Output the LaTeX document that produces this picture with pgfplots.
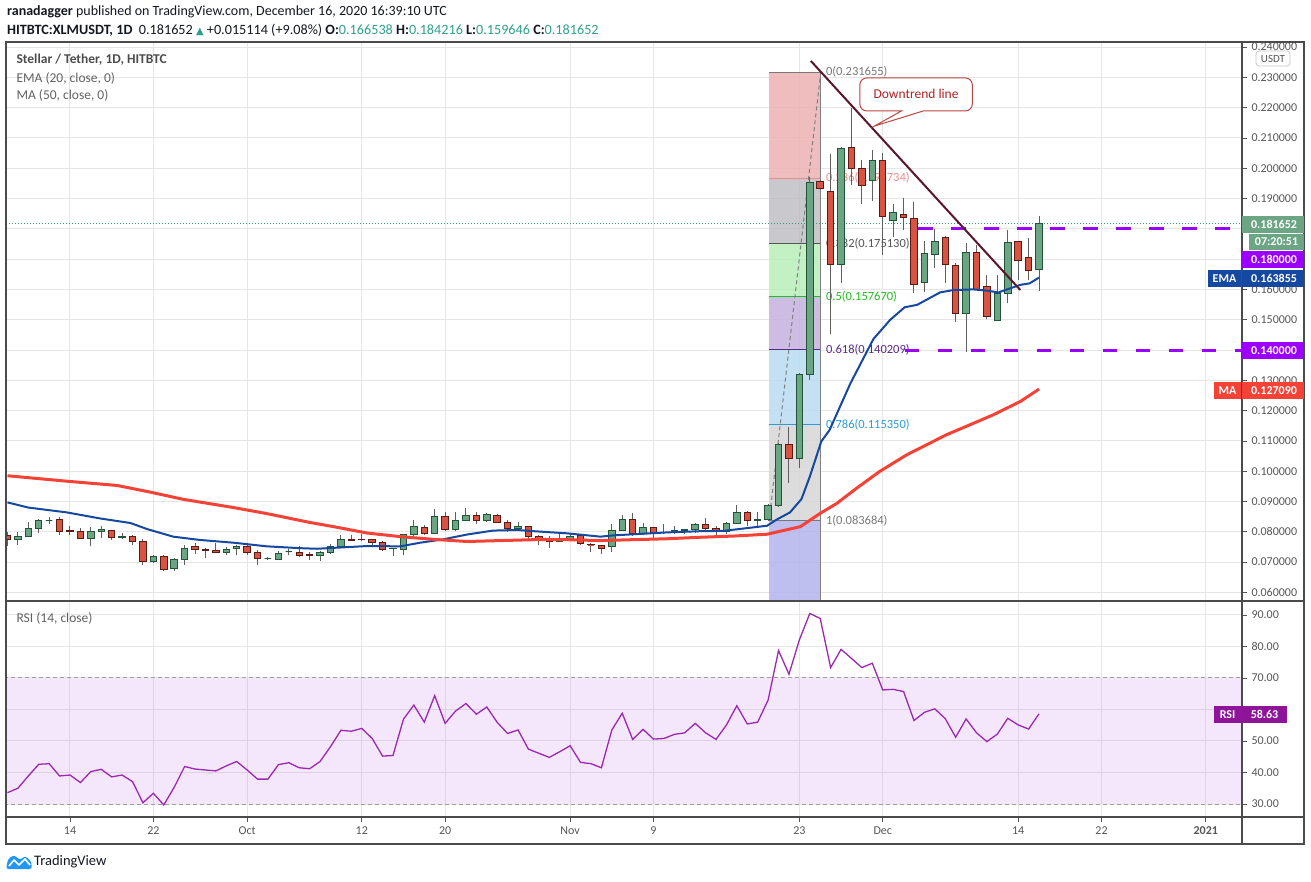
\documentclass[border=0pt]{standalone}
\usepackage{pgfplots}
\pgfplotsset{compat=1.18}
\usepackage{pgfplotstable}
\usepackage{fontspec}
\setmainfont{Carlito}
\newfontfamily\dejavu{DejaVu Sans}
\newcommand\fs[1]{\fontsize{#1}{#1}\selectfont}

\definecolor{cgreen}{RGB}{107,165,131}
\definecolor{cgreenb}{RGB}{34,84,55}
\definecolor{cred}{RGB}{215,84,66}
\definecolor{credb}{RGB}{91,26,19}
\definecolor{wickc}{RGB}{95,95,95}
\definecolor{emac}{RGB}{21,72,160}
\definecolor{mac}{RGB}{244,67,54}
\definecolor{purp}{RGB}{155,0,255}
\definecolor{rsic}{RGB}{156,39,176}
\definecolor{rsibox}{RGB}{142,21,153}
\definecolor{rsiband}{RGB}{155,39,220}
\definecolor{gridc}{RGB}{230,230,230}
\definecolor{tickc}{RGB}{85,85,85}
\definecolor{framec}{RGB}{75,75,75}
\definecolor{tealv}{RGB}{46,160,140}
\definecolor{dotc}{RGB}{60,150,120}
\definecolor{trend}{RGB}{90,22,42}
\definecolor{callred}{RGB}{178,34,34}
\definecolor{callbd}{RGB}{185,70,65}
\definecolor{txt}{RGB}{19,23,34}
\definecolor{fibr}{RGB}{236,178,178}
\definecolor{fibgr}{RGB}{190,190,196}
\definecolor{fibg}{RGB}{185,238,185}
\definecolor{fibp}{RGB}{196,178,222}
\definecolor{fibb}{RGB}{185,220,240}
\definecolor{fibl}{RGB}{214,214,214}
\definecolor{fibbot}{RGB}{180,180,236}
\definecolor{lab0}{RGB}{120,120,120}
\definecolor{lab236}{RGB}{232,140,140}
\definecolor{lab382}{RGB}{85,85,85}
\definecolor{lab5}{RGB}{30,190,30}
\definecolor{lab618}{RGB}{90,40,140}
\definecolor{lab786}{RGB}{45,155,216}
\definecolor{tvblue}{RGB}{33,150,243}

\pgfplotstableread{
d o h l c
-6 0.0789 0.0798 0.0753 0.0776
-5 0.0776 0.0798 0.0755 0.0786
-4 0.0786 0.0831 0.0786 0.0812
-3 0.0812 0.0842 0.0795 0.0838
-2 0.0837 0.0848 0.0826 0.0837
-1 0.0841 0.0848 0.0791 0.0802
0 0.0803 0.0820 0.0791 0.0802
1 0.0802 0.0814 0.0778 0.0778
2 0.0778 0.0815 0.0752 0.0802
3 0.0801 0.0820 0.0781 0.0806
4 0.0805 0.0805 0.0772 0.0782
5 0.0782 0.0795 0.0777 0.0785
6 0.0785 0.0790 0.0755 0.0769
7 0.0769 0.0777 0.0690 0.0701
8 0.0701 0.0725 0.0698 0.0717
9 0.0717 0.0722 0.0671 0.0675
10 0.0679 0.0712 0.0671 0.0707
11 0.0707 0.0757 0.0692 0.0746
12 0.0753 0.0764 0.0727 0.0740
13 0.0741 0.0747 0.0714 0.0737
14 0.0738 0.0764 0.0730 0.0732
15 0.0733 0.0749 0.0722 0.0743
16 0.0744 0.0757 0.0722 0.0750
17 0.0750 0.0764 0.0725 0.0732
18 0.0733 0.0741 0.0690 0.0712
19 0.0711 0.0717 0.0708 0.0711
20 0.0709 0.0736 0.0706 0.0730
21 0.0734 0.0744 0.0722 0.0734
22 0.0732 0.0753 0.0716 0.0723
23 0.0724 0.0733 0.0706 0.0723
24 0.0723 0.0737 0.0704 0.0732
25 0.0733 0.0760 0.0728 0.0752
26 0.0752 0.0788 0.0747 0.0776
27 0.0776 0.0790 0.0768 0.0771
28 0.0775 0.0792 0.0768 0.0774
29 0.0776 0.0776 0.0757 0.0765
30 0.0766 0.0770 0.0736 0.0743
31 0.0744 0.0747 0.0719 0.0745
32 0.0743 0.0792 0.0722 0.0792
33 0.0792 0.0840 0.0775 0.0818
34 0.0815 0.0822 0.0791 0.0795
35 0.0795 0.0875 0.0795 0.0851
36 0.0851 0.0867 0.0804 0.0807
37 0.0807 0.0864 0.0803 0.0838
38 0.0838 0.0878 0.0837 0.0854
39 0.0854 0.0864 0.0827 0.0838
40 0.0838 0.0863 0.0833 0.0858
41 0.0854 0.0858 0.0829 0.0831
42 0.0831 0.0838 0.0798 0.0812
43 0.0812 0.0831 0.0809 0.0818
44 0.0818 0.0820 0.0775 0.0786
45 0.0786 0.0788 0.0755 0.0776
46 0.0776 0.0786 0.0746 0.0769
47 0.0769 0.0798 0.0766 0.0779
48 0.0776 0.0793 0.0771 0.0786
49 0.0789 0.0789 0.0755 0.0760
50 0.0758 0.0764 0.0733 0.0757
51 0.0756 0.0757 0.0727 0.0746
52 0.0750 0.0826 0.0733 0.0805
53 0.0805 0.0855 0.0803 0.0841
54 0.0841 0.0863 0.0786 0.0795
55 0.0795 0.0829 0.0789 0.0815
56 0.0815 0.0815 0.0781 0.0795
57 0.0798 0.0826 0.0792 0.0799
58 0.0798 0.0820 0.0792 0.0805
59 0.0805 0.0809 0.0792 0.0808
60 0.0808 0.0828 0.0795 0.0825
61 0.0825 0.0844 0.0805 0.0812
62 0.0812 0.0820 0.0788 0.0802
63 0.0802 0.0831 0.0794 0.0828
64 0.0828 0.0888 0.0826 0.0864
65 0.0864 0.0870 0.0818 0.0838
66 0.0838 0.0864 0.0818 0.0841
67 0.0841 0.0891 0.0837 0.0888
68 0.0888 0.1094 0.0883 0.1089
69 0.1089 0.1147 0.0962 0.1041
70 0.1041 0.1325 0.1012 0.1320
71 0.1320 0.1972 0.1301 0.1953
72 0.1955 0.1960 0.1928 0.1933
73 0.1922 0.2047 0.1453 0.1683
74 0.1683 0.2069 0.1620 0.2066
75 0.2069 0.2198 0.1944 0.1999
76 0.1999 0.2027 0.1882 0.1944
77 0.1958 0.2060 0.1892 0.2025
78 0.2025 0.2049 0.1714 0.1842
79 0.1828 0.1882 0.1774 0.1853
80 0.1848 0.1901 0.1796 0.1838
81 0.1833 0.1890 0.1589 0.1617
82 0.1622 0.1760 0.1593 0.1718
83 0.1716 0.1798 0.1670 0.1757
84 0.1770 0.1775 0.1620 0.1681
85 0.1678 0.1686 0.1494 0.1521
86 0.1521 0.1752 0.1393 0.1722
87 0.1722 0.1747 0.1598 0.1600
88 0.1609 0.1648 0.1501 0.1510
89 0.1499 0.1648 0.1499 0.1587
90 0.1587 0.1796 0.1554 0.1755
91 0.1757 0.1757 0.1631 0.1697
92 0.1706 0.1769 0.1631 0.1664
93 0.1665 0.1842 0.1596 0.1817
}\candles

\begin{document}
\begin{tikzpicture}
\path[use as bounding box] (0pt,0pt) rectangle (1311pt,-881pt);

% ---------------- main price panel ----------------
\begin{axis}[
  at={(6pt,-42pt)}, anchor=north west,
  scale only axis, width=1236pt, height=559pt,
  xmin=-6.142, xmax=112.48, ymin=0.05716, ymax=0.24165,
  axis line style={draw=none},
  xtick={0,8,17,28,36,48,56,70,78,91,99,109},
  xticklabels={},
  major x tick style={draw=none},
  ytick={0.06,0.07,0.08,0.09,0.10,0.11,0.12,0.13,0.14,0.15,0.16,0.17,0.18,0.19,0.20,0.21,0.22,0.23,0.24},
  yticklabels={0.060000,0.070000,0.080000,0.090000,0.100000,0.110000,0.120000,0.130000,0.140000,0.150000,0.160000,{},{},0.190000,0.200000,0.210000,0.220000,0.230000,0.240000},
  ytick pos=right, yticklabel pos=right,
  tick align=outside, major tick length=5pt,
  major y tick style={draw=tickc, line width=0.8pt},
  yticklabel style={font=\fs{12}, text=tickc, xshift=1pt},
  xmajorgrids, ymajorgrids,
  major grid style={draw=gridc, line width=1pt},
]
% Fibonacci retracement zones
\fill[fibr, fill opacity=0.85] (axis cs:67.1,0.231655) rectangle (axis cs:72.05,0.196734);
\fill[fibgr, fill opacity=0.85] (axis cs:67.1,0.196734) rectangle (axis cs:72.05,0.17513);
\fill[fibg, fill opacity=0.85] (axis cs:67.1,0.17513) rectangle (axis cs:72.05,0.15767);
\fill[fibp, fill opacity=0.85] (axis cs:67.1,0.15767) rectangle (axis cs:72.05,0.140209);
\fill[fibb, fill opacity=0.85] (axis cs:67.1,0.140209) rectangle (axis cs:72.05,0.11535);
\fill[fibl, fill opacity=0.85] (axis cs:67.1,0.11535) rectangle (axis cs:72.05,0.083684);
\fill[fibbot, fill opacity=0.85] (axis cs:67.1,0.083684) rectangle (axis cs:72.05,0.05);
\draw[lab0, line width=1pt] (axis cs:67.1,0.231655) -- (axis cs:72.05,0.231655);
\draw[lab236, line width=1pt] (axis cs:67.1,0.196734) -- (axis cs:72.05,0.196734);
\draw[lab382, line width=1pt] (axis cs:67.1,0.17513) -- (axis cs:72.05,0.17513);
\draw[lab5, line width=1pt] (axis cs:67.1,0.15767) -- (axis cs:72.05,0.15767);
\draw[lab618, line width=1pt] (axis cs:67.1,0.140209) -- (axis cs:72.05,0.140209);
\draw[lab786, line width=1pt] (axis cs:67.1,0.11535) -- (axis cs:72.05,0.11535);
\draw[lab0, line width=1pt] (axis cs:67.1,0.083684) -- (axis cs:72.05,0.083684);
\draw[gray, line width=0.8pt] (axis cs:72.05,0.231655) -- (axis cs:72.05,0.05);
\draw[gray, line width=1pt, dash pattern=on 4pt off 3pt] (axis cs:67.1,0.083684) -- (axis cs:72.05,0.231655);
\node[anchor=west, text=lab0, font=\fs{12.5}, inner sep=1pt] at (axis cs:72.45,0.231655) {0(0.231655)};
\node[anchor=west, text=lab236, font=\fs{12.5}, inner sep=1pt] at (axis cs:72.45,0.196734) {0.236(0.196734)};
\node[anchor=west, text=lab382, font=\fs{12.5}, inner sep=1pt] at (axis cs:72.45,0.17513) {0.382(0.175130)};
\node[anchor=west, text=lab5, font=\fs{12.5}, inner sep=1pt] at (axis cs:72.45,0.15767) {0.5(0.157670)};
\node[anchor=west, text=lab618, font=\fs{12.5}, inner sep=1pt] at (axis cs:72.45,0.140209) {0.618(0.140209)};
\node[anchor=west, text=lab786, font=\fs{12.5}, inner sep=1pt] at (axis cs:72.45,0.11535) {0.786(0.115350)};
\node[anchor=west, text=lab0, font=\fs{12.5}, inner sep=1pt] at (axis cs:72.45,0.083684) {1(0.083684)};

% current price dotted line
\draw[dotc, line width=0.8pt, dash pattern=on 1pt off 2pt] (axis cs:-7,0.181652) -- (axis cs:113,0.181652);

% candles
\pgfplotstablegetrowsof{\candles}
\pgfmathtruncatemacro{\nrows}{\pgfplotsretval-1}
\pgfplotsforeachungrouped \i in {0,...,\nrows}{%
  \pgfplotstablegetelem{\i}{d}\of\candles \edef\cd{\pgfplotsretval}%
  \pgfplotstablegetelem{\i}{o}\of\candles \edef\co{\pgfplotsretval}%
  \pgfplotstablegetelem{\i}{h}\of\candles \edef\ch{\pgfplotsretval}%
  \pgfplotstablegetelem{\i}{l}\of\candles \edef\cl{\pgfplotsretval}%
  \pgfplotstablegetelem{\i}{c}\of\candles \edef\cc{\pgfplotsretval}%
  \pgfmathsetmacro{\xa}{\cd-0.31}%
  \pgfmathsetmacro{\xb}{\cd+0.31}%
  \pgfmathtruncatemacro{\isup}{\cc>=\co ? 1 : 0}%
  \ifnum\isup=1 \def\fc{cgreen}\def\bc{cgreenb}\else\def\fc{cred}\def\bc{credb}\fi
  \edef\tmp{\noexpand\draw[wickc, line width=1pt] (axis cs:\cd,\cl) -- (axis cs:\cd,\ch);
    \noexpand\filldraw[fill=\fc, draw=\bc, line width=1pt] (axis cs:\xa,\co) rectangle (axis cs:\xb,\cc);}%
  \tmp
}

% EMA 20
\addplot[emac, line width=2pt] coordinates {
(-6.0,0.0897) (-4.0,0.0880) (-0.3,0.0864) (2.9,0.0844) (5.8,0.0829) (7.4,0.0809) (9.9,0.0784) (12.5,0.0773) (15.7,0.0764) (18.9,0.0752) (22.1,0.0746) (23.7,0.0744) (25.3,0.0747) (28.5,0.0753) (31.7,0.0752) (33.6,0.0764) (35.8,0.0775) (38.1,0.0791) (40.6,0.0804) (42.9,0.0806) (44.5,0.0802) (47.7,0.0795) (50.9,0.0784) (52.1,0.0788) (54.1,0.0792) (57.3,0.0798) (60.5,0.0802) (62.7,0.0803) (63.7,0.0807) (66.9,0.0820) (67.8,0.0840) (69.1,0.0864) (70.2,0.0908) (71,0.0982) (72.1,0.1098) (72.9,0.1136) (74.9,0.1290) (77.1,0.1436) (78.7,0.1499) (80.1,0.1541) (81.3,0.1549) (83.5,0.1590) (84.8,0.1598) (86.7,0.1600) (88,0.1596) (89.1,0.1590) (90.2,0.1603) (91.2,0.1615) (92.1,0.1620) (93,0.1639)
};
% MA 50
\addplot[mac, line width=3pt] coordinates {
(-6,0.0985) (-0.3,0.0967) (4.5,0.0953) (7.7,0.0931) (10.9,0.0907) (15.7,0.0880) (18.9,0.0860) (23,0.0831) (25.3,0.0817) (28.5,0.0796) (31.7,0.0784) (34.9,0.0775) (38.1,0.0768) (41.3,0.0771) (44.5,0.0774) (47.7,0.0774) (50.9,0.0771) (54,0.0774) (57.3,0.0777) (60.5,0.0782) (63.7,0.0786) (66.9,0.0792) (70.1,0.0817) (72,0.0861) (73.6,0.0894) (75.5,0.0944) (77.7,0.0999) (80.3,0.1054) (84.1,0.1120) (86.7,0.1158) (88.6,0.1186) (91.2,0.1230) (93,0.1271)
};

% horizontal levels
\draw[purp, line width=3pt, dash pattern=on 14.5pt off 18.5pt] (axis cs:81.4,0.18) -- (axis cs:112.48,0.18);
\draw[purp, line width=3pt, dash pattern=on 14.5pt off 18.5pt] (axis cs:80.1,0.14) -- (axis cs:112.48,0.14);

% downtrend line
\draw[trend, line width=2pt] (axis cs:71.1,0.2354) -- (axis cs:91.2,0.1598);
% callout
\draw[callbd, fill=white, line width=1pt] (axis cs:75.8,0.2244) [rounded corners=7pt]-- (axis cs:75.8,0.2298) -- (axis cs:86.6,0.2298) -- (axis cs:86.6,0.2189) [sharp corners]-- (axis cs:81.9,0.2189) -- (axis cs:77.2,0.2139) -- (axis cs:79.8,0.2189) [rounded corners=7pt]-- (axis cs:75.8,0.2189) -- cycle;
\node[text=callred, font=\fs{13.5}] at (axis cs:81.2,0.2244) {Downtrend line};
\end{axis}

% ---------------- RSI panel ----------------
\begin{axis}[
  at={(6pt,-601pt)}, anchor=north west,
  scale only axis, width=1236pt, height=216pt,
  xmin=-6.142, xmax=112.48, ymin=25.87, ymax=94.44,
  axis line style={draw=none},
  xtick={0,8,17,28,36,48,56,70,78,91,99,109},
  xticklabels={14,22,Oct,12,20,Nov,9,23,Dec,14,22,\textbf{2021}},
  xtick pos=left,
  ytick={30,40,50,60,70,80,90},
  yticklabels={30.00,40.00,50.00,{},70.00,80.00,90.00},
  ytick pos=right, yticklabel pos=right,
  tick align=outside, major tick length=5pt,
  tick style={draw=tickc, line width=0.8pt},
  yticklabel style={font=\fs{12}, text=tickc, xshift=1pt},
  xticklabel style={font=\fs{12}, text=tickc, yshift=-1pt},
  xmajorgrids, ymajorgrids,
  major grid style={draw=gridc, line width=1pt},
]
\fill[rsiband, fill opacity=0.11] (axis cs:-7,30) rectangle (axis cs:113,70);
\draw[gray!75, line width=1pt, dash pattern=on 4pt off 3pt] (axis cs:-7,70) -- (axis cs:113,70);
\draw[gray!75, line width=1pt, dash pattern=on 4pt off 3pt] (axis cs:-7,30) -- (axis cs:113,30);
\addplot[rsic, line width=1.3pt] coordinates {
(-6,33.6) (-5,35.0) (-4,38.9) (-3,42.6) (-2,42.8) (-1,38.9) (0,39.2) (1,36.8) (2,40.3) (3,41.0) (4,38.6) (5,39.2) (6,37.1) (7,30.4) (8,33.4) (9,29.7) (10,35.3) (11,41.9) (12,41.1) (13,40.8) (14,40.5) (15,42.1) (16,43.5) (17,40.8) (18,37.9) (19,37.9) (20,42.5) (21,43.1) (22,41.5) (23,41.2) (24,43.5) (25,48.2) (26,53.4) (27,53.1) (28,54.0) (29,50.8) (30,45.2) (31,45.4) (32,56.9) (33,61.4) (34,56.0) (35,64.4) (36,55.6) (37,59.5) (38,61.9) (39,58.5) (40,60.8) (41,55.9) (42,52.4) (43,53.5) (44,47.4) (45,46.1) (46,44.8) (47,46.6) (48,48.5) (49,43.2) (50,42.8) (51,41.5) (52,53.5) (53,58.8) (54,50.5) (55,53.7) (56,50.6) (57,50.8) (58,52.1) (59,52.6) (60,55.6) (61,52.6) (62,50.5) (63,55.1) (64,61.2) (65,55.4) (66,56.0) (67,63.0) (68,78.7) (69,71.2) (70,82.1) (71,90.5) (72,88.9) (73,73.3) (74,79.1) (75,76.2) (76,73.3) (77,74.7) (78,66.2) (79,66.4) (80,65.7) (81,56.5) (82,59.1) (83,60.2) (84,57.1) (85,51.2) (86,57.0) (87,52.6) (88,49.8) (89,52.2) (90,57.2) (91,55.1) (92,53.8) (93,58.63)
};
\end{axis}

% ---------------- frame, labels, header ----------------
\draw[framec, line width=1.3pt] (6pt,-42pt) rectangle (1304pt,-844pt);
\draw[framec, line width=1.3pt] (1242pt,-42pt) -- (1242pt,-844pt);
\draw[framec, line width=1.3pt] (6pt,-601pt) -- (1304pt,-601pt);
\draw[framec, line width=1.3pt] (6pt,-817pt) -- (1304pt,-817pt);

% USDT badge
\draw[gray!45, fill=white, rounded corners=3pt, line width=0.8pt] (1256pt,-51pt) rectangle (1290pt,-66pt);
\node[text=tickc, font=\fs{11}] at (1273pt,-58.5pt) {USDT};

% price scale badges
\fill[cgreen] (1242pt,-216pt) rectangle (1304pt,-232.5pt);
\node[text=white, font=\bfseries\fs{12}] at (1274pt,-224.3pt) {0.181652};
\fill[cgreen] (1249pt,-234pt) rectangle (1304pt,-250pt);
\node[text=white, font=\bfseries\fs{12}] at (1276.5pt,-242pt) {07:20:51};
\fill[purp] (1242pt,-251pt) rectangle (1304pt,-268pt);
\node[text=white, font=\bfseries\fs{12}] at (1274pt,-259.5pt) {0.180000};
\fill[emac] (1208pt,-270pt) rectangle (1241pt,-287pt);
\node[text=white, font=\bfseries\fs{12}] at (1224.5pt,-278.5pt) {EMA};
\fill[emac] (1242pt,-270pt) rectangle (1304pt,-287pt);
\node[text=white, font=\bfseries\fs{12}] at (1274pt,-278.5pt) {0.163855};
\fill[purp] (1242pt,-342pt) rectangle (1304pt,-359pt);
\node[text=white, font=\bfseries\fs{12}] at (1274pt,-350.5pt) {0.140000};
\fill[mac] (1214pt,-382pt) rectangle (1241pt,-399pt);
\node[text=white, font=\bfseries\fs{12}] at (1227.5pt,-390.5pt) {MA};
\fill[mac] (1242pt,-382pt) rectangle (1304pt,-399pt);
\node[text=white, font=\bfseries\fs{12}] at (1274pt,-390.5pt) {0.127090};
\fill[rsibox] (1214pt,-706pt) rectangle (1241pt,-723pt);
\node[text=white, font=\bfseries\fs{12}] at (1227.5pt,-714.5pt) {RSI};
\fill[rsibox] (1242pt,-706pt) rectangle (1287pt,-723pt);
\node[text=white, font=\bfseries\fs{12}] at (1264.5pt,-714.5pt) {58.63};

% panel legends
\node[anchor=west, text=black!70, font=\bfseries\fs{13.5}] at (13pt,-60pt) {Stellar / Tether, 1D, HITBTC};
\node[anchor=west, text=black!62, font=\fs{13.5}] at (13pt,-78pt) {EMA (20, close, 0)};
\node[anchor=west, text=black!62, font=\fs{13.5}] at (13pt,-95pt) {MA (50, close, 0)};
\node[anchor=west, text=black!62, font=\fs{13.5}] at (13pt,-618pt) {RSI (14, close)};

% header
\node[anchor=west, text=txt, font=\fs{14}, inner sep=0pt] at (7pt,-12pt) {\textbf{ranadagger} published on TradingView.com, December 16, 2020 16:39:10 UTC};
\node[anchor=west, text=txt, font=\fs{14.2}, inner sep=0pt] at (7pt,-30pt) {\textbf{HITBTC:XLMUSDT, 1D}\ \ 0.181652 {\color{tealv}\dejavu\fs{10}▲} +0.015114 (+9.08\%) \textbf{O:}{\color{tealv}0.166538} \textbf{H:}{\color{tealv}0.184216} \textbf{L:}{\color{tealv}0.159646} \textbf{C:}{\color{tealv}0.181652}};

% TradingView logo
\fill[tvblue, rounded corners=2.5pt] (6pt,-869pt) -- (8pt,-859pt) -- (14pt,-855pt) -- (20pt,-860pt) -- (25pt,-856pt) -- (31pt,-861pt) -- (32pt,-869pt) -- cycle;
\draw[white, line width=1.6pt, line join=round] (9pt,-866pt) -- (14pt,-860pt) -- (19pt,-865pt) -- (25pt,-859pt) -- (30pt,-865pt);
\node[anchor=west, text=txt, font=\fs{14.5}, inner sep=0pt] at (34pt,-862pt) {TradingView};
\end{tikzpicture}
\end{document}
